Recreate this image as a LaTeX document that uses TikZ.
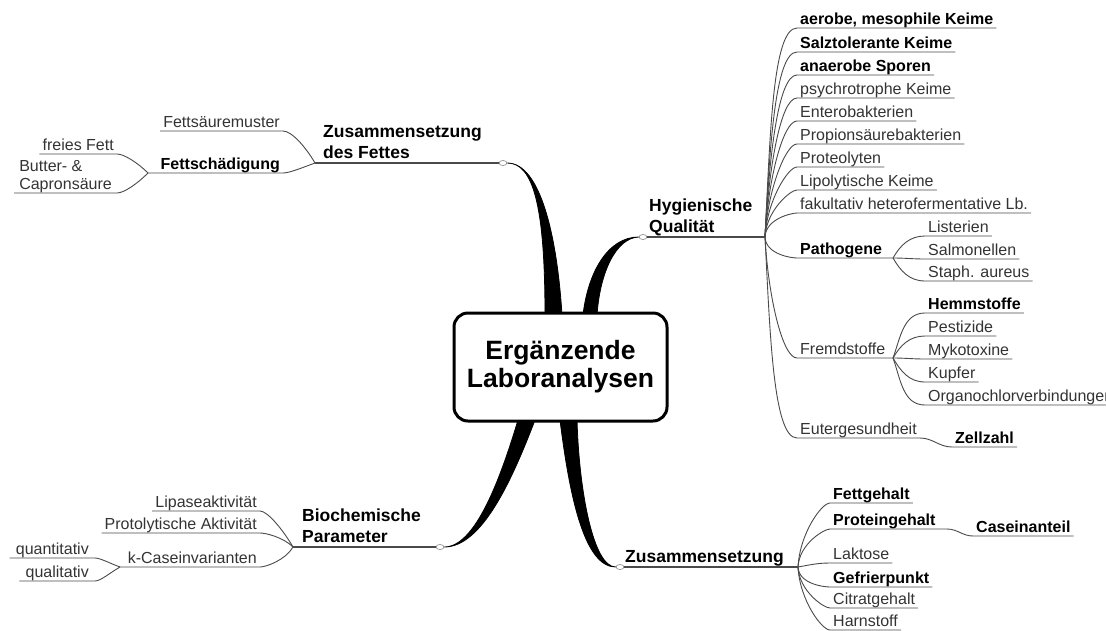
\documentclass[tikz,border=0pt]{standalone}
\usepackage{fontspec}
\setmainfont{Liberation Sans}
\usetikzlibrary{shapes.geometric}

\definecolor{txtgray}{HTML}{333333}
\definecolor{linegray}{HTML}{4A4A4A}

\tikzset{
  leaf/.style={font=\fontsize{16}{18}\selectfont, text=txtgray, inner xsep=3pt, inner ysep=1pt, text height=11.5pt, text depth=2pt, anchor=south west},
  bleaf/.style={leaf, font=\fontsize{16}{18}\selectfont\bfseries, text=black},
  leafl/.style={leaf, anchor=south east},
  bleafl/.style={bleaf, anchor=south east},
  mainlbl/.style={font=\fontsize{17.5}{21}\selectfont\bfseries, align=left, inner xsep=6pt, inner ysep=1pt, text depth=3pt, anchor=south west},
  twig/.style={draw=linegray, line width=0.9pt},
  mainline/.style={draw=linegray, line width=1.2pt},
  wedge/.style={fill=black, draw=black, line width=0.8pt},
  knob/.style={ellipse, draw=gray, fill=white, line width=0.6pt, minimum width=8pt, minimum height=5pt, inner sep=0pt},
  brup/.style={out=87, in=180, in looseness=0.3, out looseness=1.2},
  brdn/.style={out=-87, in=180, in looseness=0.3, out looseness=1.2},
}

\begin{document}
\begin{tikzpicture}[x=1pt, y=1pt]
    \useasboundingbox (0,0) rectangle (1106,-630);

    % Knoten der Hauptaeste
    \node[knob] (fk) at (503,-163) {};
    \node[knob] (hk) at (643,-237) {};
    \node[knob] (bk) at (440,-547) {};
    \node[knob] (zk) at (620,-567) {};

    % Keile zur Mitte
    \filldraw[wedge] (fk.east) .. controls (533,-163) and (545,-205) .. (545,-315) -- (562,-315) .. controls (557,-235) and (540,-163) .. (fk.east);
    \filldraw[wedge] (583,-315) .. controls (588,-272) and (608,-237) .. (hk.west) .. controls (616,-238) and (600,-272) .. (597,-315) -- cycle;
    \filldraw[wedge] (518,-420) .. controls (500,-480) and (475,-547) .. (bk.east) .. controls (482,-547) and (512,-480) .. (535,-420) -- cycle;
    \filldraw[wedge] (560,-420) .. controls (570,-500) and (585,-567) .. (zk.west) .. controls (593,-567) and (579,-490) .. (577,-420) -- cycle;

    % Mitte
    \node[draw, line width=3pt, rounded corners=14pt, fill=white, minimum width=213pt, minimum height=108pt,
          align=center, font=\fontsize{26.5}{28}\selectfont\bfseries] (box) at (560.5,-367) {Ergänzende\\Laboranalysen};

    % Zusammensetzung des Fettes
    \coordinate (fj) at (315,-163);
    \node[mainlbl, inner xsep=8pt] (fett) at (fj) {Zusammensetzung\\des Fettes};
    \node[leafl] (fsm) at (283,-131) {Fettsäuremuster};
    \node[bleafl] (fsch) at (283,-173) {Fettschädigung};
    \coordinate (sj) at (148,-173);
    \node[leafl] (frei) at (117,-154) {freies Fett};
    \node[leafl, align=left, text height=29.5pt, inner xsep=5pt] (butt) at (117,-193) {Butter- \&\\Capronsäure};

    \draw[mainline] (fj) -- (fk.west);
    \draw[twig] (fsm.south west) -- (fsm.south east) to[out=0, in=120, out looseness=0.5] (fj);
    \draw[twig] (sj) -- (fsch.south east) to[out=0, in=200, out looseness=0.5] (fj);
    \draw[twig] (frei.south west) -- (frei.south east) to[out=0, in=135, out looseness=0.5] (sj);
    \draw[twig] (butt.south west) -- (butt.south east) to[out=0, in=-135, out looseness=0.5] (sj);

    % Hygienische Qualitaet
    \coordinate (hj) at (765,-237);
    \node[mainlbl] (hyg) at (hk) {Hygienische\\Qualität};
    \node[bleaf] (aer) at (797,-28) {aerobe, mesophile Keime};
    \node[bleaf] (salz) at (797,-52) {Salztolerante Keime};
    \node[bleaf] (anae) at (797,-75) {anaerobe Sporen};
    \node[leaf] (psy) at (797,-98) {psychrotrophe Keime};
    \node[leaf] (ent) at (797,-121) {Enterobakterien};
    \node[leaf] (prop) at (797,-144) {Propionsäurebakterien};
    \node[leaf] (prot) at (797,-167) {Proteolyten};
    \node[leaf] (lip) at (797,-190) {Lipolytische Keime};
    \node[leaf] (fak) at (797,-213) {fakultativ heterofermentative Lb.};
    \node[bleaf] (patho) at (797,-258) {Pathogene};
    \coordinate (pj) at (893,-258);
    \node[leaf] (list) at (925,-236) {Listerien};
    \node[leaf] (salm) at (925,-259) {Salmonellen};
    \node[leaf] (staph) at (925,-281) {Staph. aureus};
    \node[leaf] (frem) at (797,-358) {Fremdstoffe};
    \coordinate (rj) at (893,-358);
    \node[bleaf] (hemm) at (925,-313) {Hemmstoffe};
    \node[leaf] (pest) at (925,-336) {Pestizide};
    \node[leaf] (myko) at (925,-359) {Mykotoxine};
    \node[leaf] (kupf) at (925,-382) {Kupfer};
    \node[leaf] (orga) at (925,-405) {Organochlorverbindungen};
    \node[leaf] (eut) at (797,-438) {Eutergesundheit};
    \node[bleaf] (zell) at (952,-447) {Zellzahl};

    \draw[mainline] (hk.east) -- (hj);
    \draw[twig] (hj) to[brup] (aer.south west) -- (aer.south east);
    \draw[twig] (hj) to[brup] (salz.south west) -- (salz.south east);
    \draw[twig] (hj) to[brup] (anae.south west) -- (anae.south east);
    \draw[twig] (hj) to[brup] (psy.south west) -- (psy.south east);
    \draw[twig] (hj) to[brup] (ent.south west) -- (ent.south east);
    \draw[twig] (hj) to[brup] (prop.south west) -- (prop.south east);
    \draw[twig] (hj) to[brup] (prot.south west) -- (prot.south east);
    \draw[twig] (hj) to[brup] (lip.south west) -- (lip.south east);
    \draw[twig] (hj) to[brup] (fak.south west) -- (fak.south east);
    \draw[twig] (hj) to[brdn] (patho.south west) -- (pj);
    \draw[twig] (hj) to[brdn] (frem.south west) -- (rj);
    \draw[twig] (hj) to[brdn] (eut.south west) -- (eut.south east) to[out=0, in=180] (zell.south west) -- (zell.south east);

    \draw[twig] (pj) to[out=60, in=180] (list.south west) -- (list.south east);
    \draw[twig] (pj) to[out=0, in=180] (salm.south west) -- (salm.south east);
    \draw[twig] (pj) to[out=-60, in=180] (staph.south west) -- (staph.south east);

    \draw[twig] (rj) to[out=70, in=180] (hemm.south west) -- (hemm.south east);
    \draw[twig] (rj) to[out=60, in=180] (pest.south west) -- (pest.south east);
    \draw[twig] (rj) to[out=0, in=180] (myko.south west) -- (myko.south east);
    \draw[twig] (rj) to[out=-60, in=180] (kupf.south west) -- (kupf.south east);
    \draw[twig] (rj) to[out=-70, in=180] (orga.south west) -- (orga.south east);

    % Biochemische Parameter
    \coordinate (bj) at (293,-547);
    \node[mainlbl, inner xsep=9pt] (bio) at (bj) {Biochemische\\Parameter};
    \node[leafl] (lipa) at (260,-511) {Lipaseaktivität};
    \node[leafl] (protl) at (260,-533) {Protolytische Aktivität};
    \node[leafl] (kcas) at (260,-567) {k-Caseinvarianten};
    \coordinate (kj) at (120,-567);
    \node[leafl, inner xsep=6pt] (quan) at (95,-558) {quantitativ};
    \node[leafl, inner xsep=6pt] (qual) at (95,-581) {qualitativ};

    \draw[mainline] (bj) -- (bk.west);
    \draw[twig] (lipa.south west) -- (lipa.south east) to[out=0, in=120, out looseness=0.4] (bj);
    \draw[twig] (protl.south west) -- (protl.south east) to[out=0, in=135, out looseness=0.4] (bj);
    \draw[twig] (kj) -- (kcas.south east) to[out=0, in=-120, out looseness=0.4] (bj);
    \draw[twig] (quan.south west) -- (quan.south east) to[out=0, in=160, out looseness=0.5] (kj);
    \draw[twig] (qual.south west) -- (qual.south east) to[out=0, in=-150, out looseness=0.5] (kj);

    % Zusammensetzung
    \coordinate (zj) at (798,-567);
    \node[mainlbl, inner xsep=5pt] (zus) at (zk) {Zusammensetzung};
    \node[bleaf] (fettg) at (830,-503) {Fettgehalt};
    \node[bleaf] (protg) at (830,-529) {Proteingehalt};
    \coordinate (pg) at (947,-529);
    \node[bleaf] (case) at (973,-536) {Caseinanteil};
    \node[leaf] (lakt) at (830,-563) {Laktose};
    \node[bleaf] (gefr) at (830,-587) {Gefrierpunkt};
    \node[leaf] (citr) at (830,-608) {Citratgehalt};
    \node[leaf] (harn) at (830,-630) {Harnstoff};

    \draw[mainline] (zk.east) -- (zj);
    \draw[twig] (zj) to[brup] (fettg.south west) -- (fettg.south east);
    \draw[twig] (zj) to[brup] (protg.south west) -- (pg) to[out=0, in=180] (case.south west) -- (case.south east);
    \draw[twig] (zj) to[out=10, in=180] (lakt.south west) -- (lakt.south east);
    \draw[twig] (zj) to[brdn] (gefr.south west) -- (gefr.south east);
    \draw[twig] (zj) to[brdn] (citr.south west) -- (citr.south east);
    \draw[twig] (zj) to[brdn] (harn.south west) -- (harn.south east);

\end{tikzpicture}
\end{document}
